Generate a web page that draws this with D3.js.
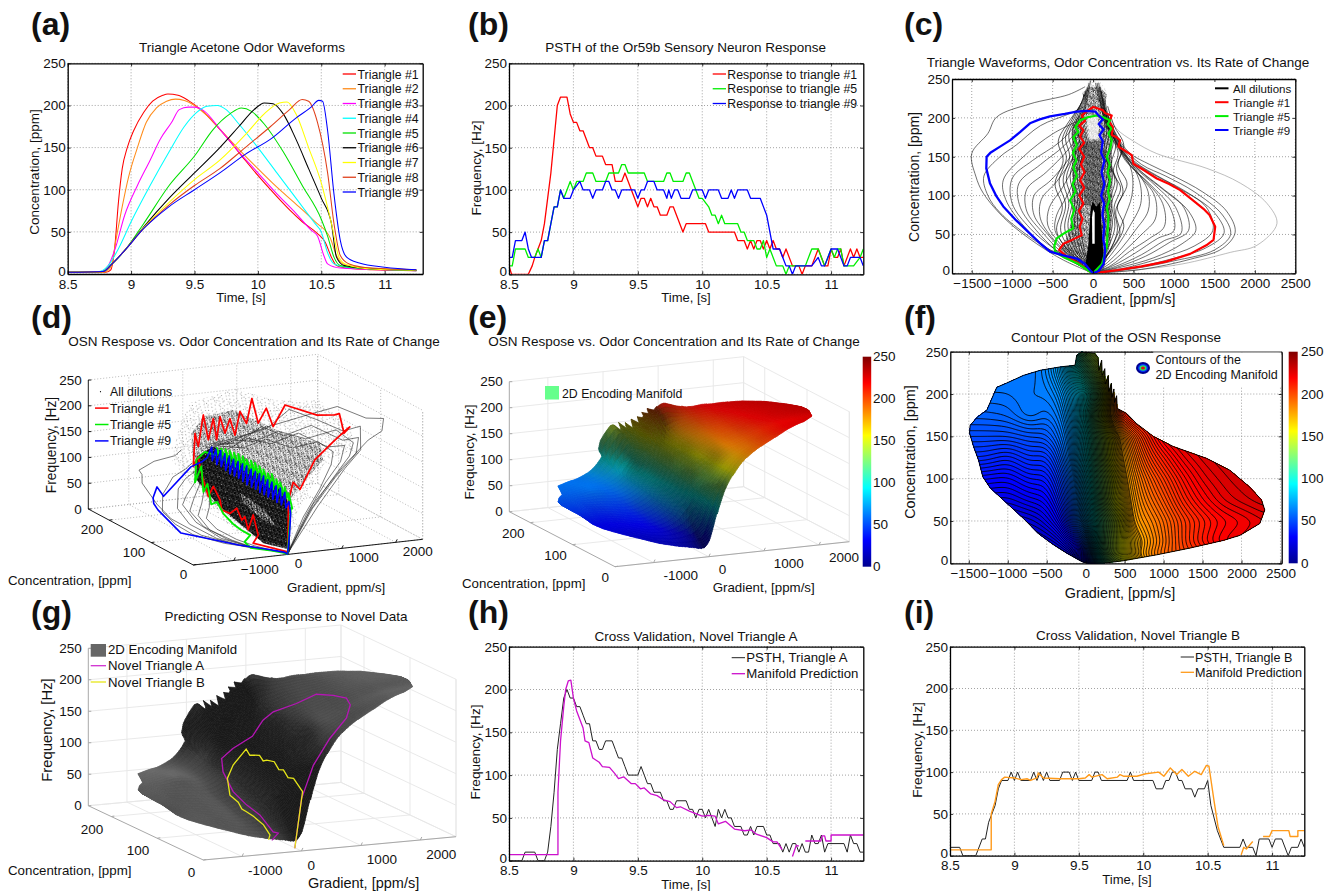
<!DOCTYPE html>
<html>
<head>
<meta charset="utf-8">
<script src="https://cdnjs.cloudflare.com/ajax/libs/d3/7.8.5/d3.min.js"></script>
<style>
body { margin: 0; background: #fff; }
text { font-family: "Liberation Sans", Arial, sans-serif; fill: #111; }
</style>
</head>
<body>
<div class="chart"></div>
<script>
// shared ticks
var timeTicks = [8.5, 9, 9.5, 10, 10.5, 11];
var freqTicks = [0, 50, 100, 150, 200, 250];
var gradTicks = [-1500, -1000, -500, 0, 500, 1000, 1500, 2000, 2500];
var gradTicks3d = [-1000, 0, 1000, 2000];
var concTicks3d = [0, 100, 200];

// (a) waveforms, [time, concentration]
var triangle1 = [[8.5,2],[8.8,2],[8.84,5],[8.87,30],[8.9,85],[8.93,125],[8.97,150],[9.02,170],[9.1,192],[9.17,205],[9.25,212],[9.29,213.5],[9.37,212],[9.45,206],[9.55,195],[9.65,180],[9.75,163],[9.9,135],[10,117],[10.1,100],[10.25,76],[10.35,62],[10.47,48],[10.53,38],[10.58,20],[10.62,10],[10.7,7],[10.9,5],[11.25,4]];
var triangle2 = [[8.5,2],[8.78,2],[8.84,8],[8.88,40],[8.93,80],[8.98,115],[9.05,150],[9.12,180],[9.2,197],[9.28,205],[9.35,207.5],[9.42,206],[9.5,200],[9.6,188],[9.7,172],[9.85,148],[10,125],[10.15,103],[10.3,83],[10.45,62],[10.57,43],[10.62,22],[10.67,12],[10.8,8],[11.25,4]];
var triangle3 = [[8.5,2],[8.76,3],[8.82,10],[8.87,28],[8.95,70],[9.05,105],[9.15,135],[9.23,160],[9.32,180],[9.38,195],[9.45,198],[9.5,198],[9.58,193],[9.7,172],[9.85,145],[10,120],[10.15,95],[10.3,72],[10.42,52],[10.47,45],[10.52,22],[10.55,12],[10.65,7],[11.25,4]];
var triangle4 = [[8.5,2],[8.75,3],[8.82,10],[8.9,30],[9,62],[9.15,105],[9.3,145],[9.42,175],[9.52,192],[9.6,199],[9.68,200],[9.75,195],[9.85,178],[10,150],[10.15,120],[10.3,90],[10.45,60],[10.5,50],[10.55,25],[10.6,12],[10.7,8],[11.25,4]];
var triangle5 = [[8.5,2],[8.78,3],[8.85,12],[8.95,28],[9.1,60],[9.3,105],[9.5,140],[9.65,172],[9.78,190],[9.87,197],[9.95,193],[10.05,178],[10.2,145],[10.35,105],[10.5,65],[10.55,45],[10.6,20],[10.65,10],[10.8,7],[11.25,4.5]];
var triangle6 = [[8.5,2],[8.78,3],[8.85,12],[8.95,28],[9.1,56],[9.3,90],[9.5,120],[9.7,150],[9.85,175],[9.97,195],[10.05,203],[10.12,202],[10.2,190],[10.3,160],[10.4,125],[10.5,90],[10.58,60],[10.62,20],[10.68,10],[10.9,6],[11.25,4.5]];
var triangle7 = [[8.5,2],[8.78,3],[8.85,12],[8.95,28],[9.1,55],[9.3,85],[9.5,112],[9.7,135],[9.9,165],[10.05,190],[10.17,203],[10.23,204],[10.3,190],[10.4,150],[10.5,108],[10.58,60],[10.64,20],[10.7,11],[10.9,6],[11.25,4.5]];
var triangle8 = [[8.5,2],[8.78,3],[8.85,12],[8.95,28],[9.1,54],[9.3,82],[9.5,105],[9.7,125],[9.9,150],[10.1,175],[10.25,195],[10.35,207],[10.4,205],[10.47,180],[10.55,120],[10.6,60],[10.65,22],[10.72,12],[10.9,7],[11.25,5]];
var triangle9 = [[8.5,2],[8.78,3],[8.85,12],[8.95,28],[9.1,54],[9.3,80],[9.5,100],[9.7,120],[9.9,142],[10.1,160],[10.3,185],[10.42,198],[10.48,206],[10.51,205],[10.55,170],[10.6,95],[10.65,40],[10.7,20],[10.8,13],[11,8],[11.25,5]];

// (b) PSTH, [time, frequency]
var psth1 = [[8.5,10],[8.52,0],[8.65,0],[8.68,10],[8.7,20],[8.725,30],[8.75,40],[8.775,60],[8.8,90],[8.825,120],[8.85,160],[8.875,200],[8.9,210],[8.95,210],[8.975,190],[9,180],[9.025,180],[9.05,170],[9.075,170],[9.1,160],[9.125,150],[9.15,150],[9.175,140],[9.225,140],[9.25,130],[9.3,130],[9.325,110],[9.375,110],[9.4,120],[9.45,100],[9.5,80],[9.525,90],[9.55,90],[9.575,80],[9.6,90],[9.625,80],[9.65,80],[9.675,70],[9.725,70],[9.75,80],[9.775,80],[9.85,50],[9.875,60],[10.025,60],[10.05,50],[10.25,50],[10.275,40],[10.325,40],[10.35,30],[10.375,40],[10.4,30],[10.425,40],[10.45,40],[10.475,30],[10.5,40],[10.525,30],[10.55,40],[10.575,30],[10.6,30],[10.625,20],[10.65,30],[10.7,10],[10.75,10],[10.775,0],[10.8,10],[10.85,10],[10.875,20],[10.9,30],[10.925,20],[10.95,10],[10.975,10],[11,30],[11.025,20],[11.05,20],[11.075,30],[11.1,10],[11.125,20],[11.15,30],[11.175,20],[11.2,30],[11.225,20],[11.25,20]];
var psth5 = [[8.5,10],[8.525,10],[8.55,30],[8.625,30],[8.65,20],[8.7,20],[8.725,30],[8.75,20],[8.775,40],[8.8,40],[8.825,60],[8.85,80],[8.875,80],[8.9,100],[8.925,90],[8.95,100],[8.975,110],[9,100],[9.025,110],[9.075,110],[9.1,120],[9.15,120],[9.175,110],[9.25,110],[9.275,120],[9.35,120],[9.375,130],[9.4,130],[9.425,120],[9.55,120],[9.575,110],[9.7,110],[9.725,120],[9.75,120],[9.775,110],[9.85,110],[9.875,120],[9.9,120],[9.925,110],[9.975,90],[10,90],[10.05,80],[10.075,70],[10.1,70],[10.125,60],[10.15,70],[10.175,60],[10.275,60],[10.3,50],[10.325,50],[10.35,40],[10.4,40],[10.425,30],[10.45,30],[10.475,40],[10.5,20],[10.525,30],[10.55,20],[10.575,10],[10.625,10],[10.65,0],[10.675,10],[10.8,10],[10.85,30],[10.9,30],[10.925,20],[10.95,10],[10.975,20],[11,30],[11.025,20],[11.05,30],[11.075,30],[11.1,10],[11.175,10],[11.225,20],[11.25,30]];
var psth9 = [[8.5,20],[8.525,20],[8.55,40],[8.6,40],[8.625,50],[8.65,30],[8.675,20],[8.75,20],[8.775,40],[8.8,40],[8.825,60],[8.85,80],[8.875,80],[8.9,100],[8.925,90],[8.975,90],[9,100],[9.05,110],[9.075,100],[9.125,100],[9.15,90],[9.175,100],[9.225,100],[9.25,110],[9.275,110],[9.3,100],[9.325,100],[9.35,90],[9.375,100],[9.475,100],[9.5,90],[9.525,100],[9.55,100],[9.575,110],[9.625,110],[9.65,100],[9.7,100],[9.725,90],[9.74,100],[9.76,90],[9.785,100],[9.81,100],[9.835,90],[9.9,90],[9.925,100],[10,100],[10.025,90],[10.05,100],[10.125,100],[10.15,90],[10.2,90],[10.225,100],[10.25,90],[10.275,100],[10.35,100],[10.375,90],[10.45,90],[10.5,70],[10.55,30],[10.6,30],[10.625,20],[10.65,10],[10.675,10],[10.7,0],[10.725,10],[10.85,10],[10.9,20],[10.925,10],[10.95,10],[10.975,20],[11,30],[11.05,30],[11.1,10],[11.125,10],[11.15,20],[11.225,20],[11.25,10]];

// (c) phase traces, [gradient, concentration]
var phase1 = [[0,0],[300,4],[600,9],[900,15],[1200,25],[1400,36],[1489,43],[1510,60],[1440,75],[1365,83],[1220,95],[1077,107],[940,115],[788,122],[640,132],[499,141],[478,152],[390,158],[313,163],[334,171],[290,175],[231,178],[245,188],[200,195],[230,203],[150,206],[120,210],[60,212],[4,214],[-60,210],[-140,203],[-100,196],[-170,190],[-120,184],[-160,176],[-110,168],[-170,160],[-110,150],[-150,140],[-105,130],[-160,120],[-110,110],[-170,100],[-120,90],[-175,80],[-130,70],[-165,60],[-140,49],[-260,43],[-367,38],[-420,30],[-330,22],[-160,11],[-37,2],[0,0]];
var phase5 = [[0,0],[110,12],[169,34],[180,55],[190,73],[170,85],[205,95],[185,105],[210,120],[180,130],[205,140],[170,150],[210,160],[231,171],[190,180],[225,186],[180,192],[210,197],[120,201],[45,203],[-60,201],[-160,197],[-220,188],[-180,182],[-243,175],[-200,165],[-250,155],[-205,145],[-243,137],[-200,125],[-255,115],[-215,105],[-285,94],[-230,82],[-270,70],[-243,58],[-350,52],[-450,45],[-480,35],[-470,28],[-350,20],[-200,13],[-37,2],[0,0]];
var phase9 = [[0,0],[70,3],[130,12],[150,30],[125,45],[140,62],[115,75],[135,90],[100,100],[140,115],[105,130],[140,145],[100,155],[120,170],[80,178],[130,185],[70,192],[120,198],[60,204],[30,208],[-80,209],[-200,208],[-350,205],[-532,202],[-660,198],[-780,193],[-900,182],[-1027,171],[-1150,163],[-1270,155],[-1316,150],[-1320,135],[-1275,116],[-1200,100],[-1110,86],[-950,68],[-780,51],[-650,38],[-532,28],[-370,23],[-200,19],[-100,12],[-37,4],[0,0]];

// all dilutions, single traces as [gradient, concentration, frequency]
var risingTraces = [
  [[0,0,2],[500,4,90],[1100,12,150],[1700,27,190],[2025,36,200],[2273,64,209],[2149,90,200],[1820,116,215],[1407,135,195],[788,154,170],[500,170,150],[300,185,130],[180,205,120]],
  [[0,0,2],[600,5,85],[1200,18,145],[1600,32,170],[1757,53,205],[1650,80,185],[1350,105,200],[1000,125,215],[700,140,175],[450,155,160],[280,180,140],[150,210,120]],
  [[0,0,2],[500,6,80],[1000,16,130],[1500,30,165],[1700,50,185],[1600,75,170],[1250,105,190],[900,125,165],[600,140,180],[350,165,140],[200,200,125]],
  [[0,0,2],[450,6,75],[950,18,125],[1400,33,160],[1620,52,175],[1500,78,190],[1150,105,165],[800,125,175],[500,145,150],[300,170,145],[180,205,115]],
  [[0,0,2],[400,7,70],[850,20,120],[1250,35,150],[1480,55,170],[1400,85,155],[1050,110,175],[700,130,150],[420,150,155],[250,175,125],[150,210,115]],
  [[0,0,2],[350,8,65],[750,20,110],[1100,38,145],[1270,55,160],[1180,80,170],[900,105,150],[600,130,160],[380,155,135],[200,190,125]],
  [[0,0,2],[300,8,60],[650,22,105],[950,40,135],[1180,55,150],[1120,85,140],[850,110,155],[550,135,135],[340,160,140],[180,195,115]],
  [[0,0,2],[280,9,55],[600,24,95],[880,42,125],[1090,52,140],[1020,85,150],[780,112,130],[500,138,140],[300,165,120],[170,200,115]],
  [[0,0,2],[250,10,50],[520,26,90],[800,45,120],[1000,55,130],[950,85,120],[700,115,135],[450,140,115],[280,170,125]],
  [[0,0,2],[220,10,45],[450,28,80],[700,45,110],[880,60,125],[860,90,110],[640,120,125],[400,145,110],[250,175,120]],
  [[0,0,2],[200,12,40],[400,30,75],[600,50,100],[770,70,115],[760,100,105],[580,125,115],[380,150,100],[220,185,115]],
  [[0,0,2],[180,14,35],[350,32,70],[520,55,90],[680,80,105],[680,105,95],[520,135,110],[330,160,95],[200,195,110]],
  [[0,0,2],[150,15,30],[300,35,60],[450,60,85],[590,90,95],[570,120,85],[420,150,100],[260,180,95]],
  [[0,0,2],[130,15,25],[260,40,55],[380,70,75],[480,100,90],[480,130,80],[360,160,95],[220,190,90]]
];
var fallingTraces = [
  [[-100,240,100],[-300,230,95],[-780,218,95],[-1192,201,90],[-1300,180,92],[-1500,154,89],[-1450,125,60],[-1357,103,40],[-1068,68,20],[-697,38,12],[-367,17,8],[0,0,3]],
  [[-100,215,85],[-300,205,80],[-650,190,75],[-950,165,70],[-1150,150,65],[-1350,125,45],[-1300,100,30],[-1150,78,18],[-800,48,10],[-500,28,8],[-200,12,5],[0,0,3]],
  [[-100,200,80],[-490,180,75],[-862,150,72],[-1110,120,50],[-1080,95,30],[-850,60,15],[-560,32,8],[-250,15,5],[0,0,3]],
  [[-100,205,78],[-400,170,70],[-750,145,60],[-1000,122,55],[-1000,90,35],[-780,58,15],[-500,33,8],[-220,14,5],[0,0,3]],
  [[-80,200,75],[-350,165,68],[-650,140,55],[-920,115,45],[-900,85,28],[-700,55,14],[-460,30,7],[-200,13,4],[0,0,3]],
  [[-80,195,72],[-300,160,62],[-580,130,50],[-820,108,38],[-820,80,22],[-620,52,12],[-420,30,6],[-180,12,4],[0,0,3]],
  [[-70,190,70],[-280,150,58],[-520,120,45],[-730,100,35],[-730,75,25],[-560,50,14],[-380,30,8],[-160,12,4],[0,0,3]],
  [[-60,185,68],[-240,150,55],[-450,118,42],[-640,95,30],[-650,70,20],[-500,45,12],[-340,28,7],[-140,11,4],[0,0,3]],
  [[-60,180,65],[-200,145,50],[-380,110,38],[-540,85,26],[-560,62,18],[-440,42,10],[-300,26,6],[-120,10,3],[0,0,3]],
  [[-50,175,60],[-180,135,45],[-320,100,32],[-450,75,22],[-470,55,15],[-370,38,9],[-250,23,5],[-100,9,3],[0,0,3]]
];
// narrow wiggly traces near the middle of (c), [gradient, concentration]
var narrowTraces = [
  [[20,5],[230,30],[380,60],[300,85],[420,115],[310,140],[380,165],[260,190],[180,215]],
  [[20,5],[200,28],[330,50],[280,80],[370,105],[290,135],[350,160],[230,185],[150,220]],
  [[20,5],[180,25],[300,55],[260,85],[340,110],[250,130],[310,155],[210,180],[130,225]],
  [[15,5],[160,28],[270,60],[230,90],[300,115],[225,140],[280,165],[190,190],[110,230]],
  [[15,5],[150,30],[240,65],[200,90],[270,120],[200,145],[250,170],[170,195],[100,235]],
  [[10,5],[130,30],[210,60],[180,95],[240,125],[180,150],[220,175],[150,200],[90,240]],
  [[10,5],[110,35],[185,70],[155,100],[205,130],[155,155],[195,180],[130,205],[70,245]],
  [[10,5],[100,35],[160,75],[135,105],[180,135],[135,160],[170,185],[110,210],[50,245]],
  [[5,5],[85,40],[135,80],[115,110],[150,140],[115,165],[145,190],[95,215],[30,245]],
  [[-20,5],[-300,28],[-450,55],[-380,85],[-470,115],[-370,145],[-430,170],[-300,195],[-160,215]],
  [[-20,5],[-260,28],[-400,55],[-340,88],[-420,118],[-330,148],[-380,172],[-260,198],[-140,220]],
  [[-15,5],[-230,26],[-350,58],[-300,90],[-370,120],[-290,150],[-340,175],[-230,200],[-120,225]],
  [[-15,5],[-200,26],[-310,60],[-260,92],[-330,122],[-250,152],[-300,178],[-200,202],[-110,230]],
  [[-12,5],[-170,25],[-270,62],[-225,94],[-285,125],[-215,155],[-260,180],[-170,205],[-90,235]],
  [[-10,5],[-140,24],[-230,64],[-190,96],[-245,127],[-180,157],[-225,182],[-145,208],[-70,240]],
  [[-10,5],[-115,24],[-195,66],[-160,98],[-205,130],[-150,160],[-190,185],[-120,210],[-50,245]],
  [[-8,5],[-90,24],[-160,68],[-130,100],[-170,132],[-120,162],[-155,187],[-100,212],[-30,248]]
];

// dense parts of the "all dilutions" bundle in (c), [gradient, concentration]
var phaseBand = [[0,0],[-420,25],[-330,45],[-260,70],[-260,190],[-100,215],[-130,232],[-50,240],[80,240],[170,230],[150,215],[230,190],[240,100],[220,40],[130,5]];
var phaseTop = [[-110,205],[-130,235],[-50,248],[80,248],[170,235],[160,205]];
var phaseMid = [[-110,88],[-120,170],[110,170],[110,88]];
var phaseSolid = [[0,0],[-420,24],[-100,8],[-60,35],[-38,70],[-30,84],[-5,92],[40,86],[90,92],[105,60],[130,20],[70,2]];
var phaseCore = [[-10,38],[-13,72],[0,82],[20,78],[20,38]];
var phaseCoreUp = [[-70,172],[-85,190],[-60,204],[50,204],[75,190],[60,172]];

// (d) selected triangles, [gradient, concentration, frequency]
var space1 = [[0,0,5],[30,2,105],[140,5,136],[305,10,118],[657,20,167],[1077,30,193],[1500,50,205],[1500,45,210],[1510,60,191],[1500,70,225],[1450,75,221],[1320,100,211],[900,122,226],[780,135,180],[700,141,214],[620,150,182],[580,160,226],[520,165,176],[515,180,193],[423,180,148],[330,180,181],[238,180,154],[145,180,187],[83,180,143],[22,180,185],[-71,180,145],[-164,180,194],[-256,180,134],[-318,180,160],[-349,180,96],[-150,194,107],[-150,186,78],[-150,170,40],[-150,158,65],[-150,142,46],[-150,138,28],[-150,118,30],[-150,102,47],[-150,90,29],[-150,83,39],[-150,75,17],[-150,63,51],[-150,51,17],[-400,31,13],[0,0,5]];
var space5 = [[0,0,3],[60,3,60],[120,8,85],[200,15,80],[170,20,108],[230,25,88],[175,30,115],[235,35,90],[170,40,120],[240,45,92],[175,50,122],[235,55,92],[170,60,128],[235,65,95],[175,70,125],[240,75,95],[170,80,128],[235,85,98],[175,90,130],[240,95,100],[170,100,132],[235,105,100],[175,110,132],[240,115,102],[170,120,130],[235,125,100],[175,130,132],[240,135,102],[170,140,132],[235,145,100],[170,150,130],[230,155,100],[170,160,130],[225,165,100],[170,170,128],[225,175,98],[170,180,125],[215,185,100],[165,190,122],[200,195,105],[45,203,110],[-160,197,100],[-240,190,60],[-200,180,95],[-240,170,50],[-243,160,70],[-250,150,35],[-243,137,45],[-260,120,30],[-285,94,22],[-280,75,18],[-243,58,15],[-450,45,10],[-470,28,6],[-200,13,4],[-37,2,2],[0,0,0]];
var space9 = [[0,0,3],[50,2,40],[100,6,75],[130,14,95],[120,20,80],[140,25,108],[115,30,82],[135,35,112],[110,40,82],[135,45,112],[110,50,84],[135,55,115],[105,60,84],[135,65,115],[105,70,84],[135,75,118],[105,80,84],[140,85,118],[105,90,86],[140,95,118],[105,100,86],[140,105,118],[100,110,86],[135,115,120],[100,120,88],[135,125,120],[100,130,90],[130,135,120],[100,140,90],[125,145,120],[95,150,90],[125,155,122],[95,160,92],[120,165,122],[90,170,95],[120,175,124],[85,180,95],[110,185,122],[80,190,98],[110,195,122],[60,200,100],[30,207,90],[-200,205,83],[-900,180,45],[-1100,170,70],[-1250,160,55],[-1316,150,49],[-1316,140,41],[-1200,100,12],[-600,40,8],[-200,15,5],[-30,3,3],[0,0,0]];

// (d) outline of the point cloud at three densities, [gradient, concentration, frequency]
var cloudSparse = [[-1373,100,156],[-627,180,170],[-256,200,210],[546,200,228],[960,150,222],[1373,100,240],[1991,100,168],[1991,100,136],[1497,100,122],[1188,100,68],[941,100,25],[77,5,6],[-46,5,14],[-700,40,38],[-960,70,80],[-1016,110,108]];
var cloudMedium = [[-306,190,156],[-90,190,185],[466,190,192],[929,130,168],[1373,100,156],[1435,100,123],[694,60,98],[157,15,97],[77,5,12],[-281,30,18],[-540,60,47],[-645,110,72],[-429,170,88]];
var cloudDense = [[-367,170,120],[-59,170,136],[59,90,124],[96,15,111],[90,5,6],[-256,25,14],[-559,90,60],[-367,170,75]];
var cloudGap = [[-417,60,98],[15,60,63],[28,30,41],[-219,30,56],[-355,60,78]];

// (e, f, g) manifold: frequency on a gradient x concentration table
var manifoldG = [-1600,-1300,-1000,-700,-500,-300,-200,-100,0,100,200,300,400,600,800,1000,1250,1500,1750,2000,2300,2500];
var manifoldC = [0,10,25,50,75,100,125,150,175,200,225,250];
var manifoldF = [
  [6,6,6,6,6,6,6,6,5,60,100,125,140,165,180,190,200,205,210,212,215,215],
  [8,8,8,8,9,12,15,20,30,80,115,135,150,172,185,195,203,208,215,220,222,222],
  [12,12,12,13,15,20,28,38,50,90,118,135,150,170,182,192,205,215,222,225,228,228],
  [18,18,18,20,24,33,45,58,75,95,115,132,148,180,186,194,205,213,219,222,226,226],
  [26,26,25,29,30,42,52,65,80,100,122,145,158,182,192,200,212,220,226,229,232,232],
  [34,33,32,37,36,48,58,70,85,105,128,140,165,185,197,206,217,225,229,232,234,234],
  [43,43,40,45,43,55,65,75,90,110,132,152,170,190,205,214,224,229,232,234,234,234],
  [50,50,50,52,52,60,68,78,92,112,135,150,175,198,212,224,230,232,232,232,232,232],
  [56,56,57,62,58,64,72,82,95,118,145,165,210,220,224,228,232,232,232,232,232,232],
  [60,60,60,62,62,68,76,84,90,108,135,160,210,222,226,228,232,232,232,232,232,232],
  [62,62,62,60,65,74,85,95,110,130,150,165,205,222,226,228,232,232,232,232,232,232],
  [62,62,62,60,65,76,90,105,135,145,155,170,205,222,226,228,232,232,232,232,232,232]
];
var manifoldEdge = [[-51,2],[-244,12],[-415,22],[-607,35],[-800,53],[-1013,71],[-1226,89],[-1320,102],[-1376,122],[-1440,138],[-1491,154],[-1483,163],[-1389,173],[-1269,181],[-1184,199],[-1141,208],[-1013,213],[-799,222],[-585,228],[-329,232],[-137,234],[-115,246],[-51,250],[120,248],[160,243],[170,228],[205,240],[212,222],[245,230],[252,212],[290,222],[298,203],[330,213],[338,196],[362,206],[370,190],[397,198],[405,183],[526,177],[654,165],[868,150],[1124,138],[1551,124],[1850,110],[2107,90],[2256,75],[2299,63],[2235,47],[1979,33],[1765,27],[1338,18],[910,10],[483,3],[226,0],[13,0]];

// (g) novel triangles, [gradient, concentration, frequency]
var novelA = [[-88,3,4],[80,10,79],[394,25,124],[786,40,158],[1222,60,180],[1441,80,192],[1491,95,197],[1424,115,195],[1295,135,191],[1116,155,171],[842,170,155],[746,180,139],[606,185,113],[100,162,106],[-150,154,95],[-150,151,75],[-150,129,51],[-150,100,40],[-150,71,34],[-150,42,17],[-150,31,19],[-250,32,8]];
var novelB = [[-88,3,4],[97,10,90],[100,30,104],[100,42,101],[100,52,110],[100,62,107],[100,72,116],[100,88,113],[100,96,109],[100,104,115],[100,117,111],[100,125,108],[100,133,115],[-50,142,88],[-100,148,65],[-150,136,43],[-150,118,38],[-150,110,30],[-150,100,29],[-150,85,27],[-150,63,21],[-150,49,10],[-150,52,1]];

// (h, i) cross validation, [time, frequency], null marks a gap
var psthA = [[8.5,0],[8.6,0],[8.625,10],[8.7,10],[8.725,0],[8.775,0],[8.8,10],[8.825,40],[8.85,80],[8.875,130],[8.9,160],[8.925,190],[8.95,200],[8.975,190],[9,190],[9.025,180],[9.05,180],[9.075,170],[9.1,160],[9.125,160],[9.15,140],[9.175,140],[9.2,130],[9.225,130],[9.25,140],[9.3,140],[9.325,130],[9.35,120],[9.375,120],[9.4,110],[9.425,100],[9.5,100],[9.525,110],[9.55,100],[9.575,90],[9.6,90],[9.625,80],[9.675,80],[9.7,70],[9.725,70],[9.75,60],[9.775,60],[9.8,70],[9.875,70],[9.9,60],[9.925,60],[9.95,50],[9.975,60],[10,60],[10.025,50],[10.05,60],[10.075,50],[10.1,40],[10.125,60],[10.15,50],[10.175,60],[10.2,50],[10.225,50],[10.25,40],[10.3,40],[10.325,30],[10.35,30],[10.375,40],[10.4,30],[10.425,40],[10.475,40],[10.5,30],[10.525,30],[10.55,20],[10.6,20],[10.625,10],[10.65,20],[10.675,10],[10.7,20],[10.725,20],[10.75,10],[10.775,20],[10.8,10],[10.825,10],[10.85,30],[10.875,20],[10.9,20],[10.925,30],[10.95,10],[10.975,20],[11.1,20],[11.125,10],[11.15,30],[11.175,20],[11.2,20],[11.225,10],[11.25,10]];
var predictA = [[8.5,7],[8.88,7],[8.88,80],[8.9,140],[8.925,180],[8.94,200],[8.96,210],[8.98,211],[9,190],[9.025,175],[9.05,165],[9.075,155],[9.09,140],[9.12,138],[9.15,120],[9.2,115],[9.225,110],[9.28,109],[9.32,102],[9.35,96],[9.39,98],[9.45,90],[9.48,90],[9.52,84],[9.55,85],[9.6,78],[9.65,76],[9.7,71],[9.75,69],[9.8,62],[9.83,63],[9.9,58],[9.95,55],[10,52],[10.05,53],[10.1,52],[10.125,43],[10.18,46],[10.25,37],[10.33,35],[10.38,36],[10.42,31],[10.5,27],[10.55,22],[10.58,22],[10.62,13],null,[10.7,5],[10.73,18],[10.75,17],null,[10.8,23],[10.92,23],[10.93,29],[10.95,29],[10.96,23],[11,23],[11,30],[11.25,30]];
var psthB = [[8.5,10],[8.575,10],[8.6,0],[8.7,0],[8.75,20],[8.775,20],[8.8,40],[8.85,60],[8.875,80],[8.9,90],[8.95,90],[8.975,100],[9,90],[9.025,100],[9.05,90],[9.125,90],[9.15,100],[9.175,90],[9.2,100],[9.225,90],[9.25,100],[9.275,90],[9.35,90],[9.375,100],[9.425,100],[9.45,90],[9.475,100],[9.5,90],[9.6,90],[9.625,100],[9.65,100],[9.675,90],[9.875,90],[9.9,100],[9.925,90],[10.075,90],[10.1,80],[10.15,80],[10.175,90],[10.2,90],[10.225,100],[10.25,100],[10.275,90],[10.3,90],[10.325,80],[10.375,80],[10.4,70],[10.425,80],[10.475,80],[10.5,90],[10.525,60],[10.575,30],[10.625,10],[10.75,10],[10.775,20],[10.8,10],[10.85,10],[10.875,0],[10.9,20],[10.975,20],[11,10],[11.025,20],[11.075,20],[11.125,0],[11.15,10],[11.2,10],[11.225,20],[11.25,10]];
var predictB = [[8.5,7],[8.82,7],[8.82,50],[8.85,65],[8.875,85],[8.9,91],[8.925,94],[9,93],[9.05,91],[9.1,92],[9.125,90],[9.175,93],[9.185,99],[9.225,93],[9.35,92],[9.5,92],[9.55,93],[9.58,97],[9.6,94],[9.68,97],[9.72,92],[9.8,94],[9.82,97],[9.85,95],[9.95,95],[10.02,98],[10.12,100],[10.16,95],[10.21,105],[10.26,97],[10.3,103],[10.35,95],[10.4,101],[10.45,97],[10.49,108],[10.51,107],[10.55,65],[10.58,35],[10.625,12],null,[10.76,1],[10.78,10],[10.8,8],[10.85,17],null,[10.93,23],[10.98,23],[11,30],[11.13,30],[11.14,23],[11.2,23],[11.2,30],[11.25,30]];

var svgWidth = 1338;
var svgHeight = 891;
var titleSize = 13.5;

var svg = d3.select(".chart").append("svg")
  .attr("width", svgWidth)
  .attr("height", svgHeight)
  .style("display", "block");
var defs = svg.append("defs");

var jet = d3.scaleLinear()
  .domain([0, 31.25, 93.75, 156.25, 218.75, 250])
  .range(["#00008f", "#0000ff", "#00ffff", "#ffff00", "#ff0000", "#7f0000"]);

function addText(x, y, s, size, anchor, rotate, weight) {
  var t = svg.append("text")
    .attr("x", x).attr("y", y)
    .attr("font-size", size)
    .attr("text-anchor", anchor || "start")
    .text(s);
  if (rotate) t.attr("transform", `rotate(${rotate},${x},${y})`);
  if (weight) t.attr("font-weight", weight);
  return t;
}

// irregular dot tile for the dense point clouds
var tileDots = [[2,3],[9,1],[17,4],[25,2],[5,9],[13,7],[21,10],[28,8],[1,14],[8,13],[16,12],[24,15],[4,19],[11,18],[19,17],[27,20],[7,24],[14,23],[22,25],[29,26],[2,28],[10,28],[18,29],[26,23],[12,3],[20,6],[6,16],[15,21],[23,20],[3,24]];
function stipple(id, count, size, r, color) {
  defs.append("pattern").attr("id", id)
    .attr("patternUnits", "userSpaceOnUse")
    .attr("patternTransform", "rotate(17)")
    .attr("width", size).attr("height", size)
    .selectAll("circle").data(tileDots.slice(0, count)).enter().append("circle")
    .attr("cx", d => d[0] * size / 30)
    .attr("cy", d => d[1] * size / 30)
    .attr("r", r)
    .attr("fill", color);
}
stipple("cloudSparse", 30, 17, 0.42, "#222");
stipple("cloudMedium", 30, 10, 0.55, "#000");
stipple("cloudDense", 30, 6, 0.72, "#000");
stipple("cloudWhite", 30, 11, 0.65, "#fff");
stipple("bandDots", 30, 8, 0.55, "#000");
stipple("topDots", 30, 14, 0.35, "#777");

// 2d axes with matlab style box, inward ticks and dotted grid
function axes2d(o) {
  var x = d3.scaleLinear().domain(o.xDomain).range([o.left, o.right]);
  var y = d3.scaleLinear().domain(o.yDomain).range([o.bottom, o.top]);
  var g = svg.append("g");

  g.append("g").selectAll("line").data(o.xTicks).enter().append("line")
    .attr("x1", d => x(d)).attr("x2", d => x(d))
    .attr("y1", o.top).attr("y2", o.bottom);
  g.append("g").selectAll("line").data(o.yTicks).enter().append("line")
    .attr("x1", o.left).attr("x2", o.right)
    .attr("y1", d => y(d)).attr("y2", d => y(d));
  g.selectAll("line").attr("stroke", "#8c8c8c").attr("stroke-width", 0.8).attr("stroke-dasharray", "1,2");

  var marks = svg.append("g");

  var box = svg.append("g").attr("class", "box");
  var size = 3;
  box.append("g").attr("transform", `translate(0,${o.bottom})`)
    .call(d3.axisBottom(x).tickValues(o.xTicks).tickSizeInner(-size).tickSizeOuter(0).tickPadding(5).tickFormat(d => d3.format("")(d).replace("-", "\u2212")));
  var left = box.append("g").attr("transform", `translate(${o.left},0)`)
    .call(d3.axisLeft(y).tickValues(o.yTicks).tickSizeInner(-size).tickSizeOuter(0).tickPadding(2));
  // the zero label sits a little above the corner, as in the original
  left.selectAll(".tick text").filter(d => d === 0).attr("y", -3);
  box.append("g").attr("transform", `translate(0,${o.top})`)
    .call(d3.axisTop(x).tickValues(o.xTicks).tickSizeInner(-size).tickSizeOuter(0).tickFormat(""));
  box.append("g").attr("transform", `translate(${o.right},0)`)
    .call(d3.axisRight(y).tickValues(o.yTicks).tickSizeInner(-size).tickSizeOuter(0).tickFormat(""));
  box.selectAll("path.domain").attr("stroke", "#000").attr("stroke-width", 1.3);
  box.selectAll(".tick line").attr("stroke", "#000").attr("stroke-width", 0.8);
  box.selectAll("text").attr("font-size", 13.5).style("fill", "#111");
  box.selectAll("g").filter(function() { return this.getAttribute("font-family"); }).attr("font-family", null).attr("font-size", null);

  var clipId = "clip" + Math.round(o.left) + "_" + Math.round(o.top);
  defs.append("clipPath").attr("id", clipId).append("rect")
    .attr("x", o.left).attr("y", o.top)
    .attr("width", o.right - o.left).attr("height", o.bottom - o.top);
  marks.attr("clip-path", `url(#${clipId})`);

  return { x: x, y: y, marks: marks };
}

function drawSeries(ax, series, curve) {
  var line = d3.line().defined(d => d !== null).x(d => ax.x(d[0])).y(d => ax.y(d[1]));
  if (curve) line.curve(curve);
  ax.marks.append("g").selectAll("path").data(series).enter().append("path")
    .attr("d", d => line(d.values))
    .attr("fill", "none")
    .attr("stroke", d => d.color)
    .attr("stroke-width", d => d.width || 1.1)
    .attr("stroke-linejoin", "round");
}

function drawLegend(items, x0, x1, xText, yStart, yStep, size, width) {
  items.forEach(function(d, i) {
    var y = yStart + i * yStep;
    if (d.color) {
      svg.append("line").attr("x1", x0).attr("x2", x1).attr("y1", y).attr("y2", y)
        .attr("stroke", d.color).attr("stroke-width", d.width || width || 1.3);
    }
    addText(xText, y + 4.5, d.name, size || 12.3);
  });
}

// (a)
var waveColors = ["#ff0000", "#ff8c1a", "#ff00ff", "#00ffff", "#00e000", "#000000", "#ffff00", "#e0401a", "#0000ff"];
var waves = [triangle1, triangle2, triangle3, triangle4, triangle5, triangle6, triangle7, triangle8, triangle9];
var axA = axes2d({ left: 67.7, right: 422.7, top: 63.3, bottom: 274, xDomain: [8.5, 11.3], yDomain: [0, 250], xTicks: timeTicks, yTicks: freqTicks });
drawSeries(axA, waves.map((w, i) => ({ values: w, color: waveColors[i], width: 1.05 })), d3.curveMonotoneX);
drawLegend(waves.map((w, i) => ({ name: "Triangle #" + (i + 1), color: waveColors[i] })), 342.7, 356, 357.5, 74, 14.75);
addText(242, 52, "Triangle Acetone Odor Waveforms", titleSize, "middle");
addText(241, 302, "Time, [s]", 13, "middle");
addText(39, 172, "Concentration, [ppm]", 13.5, "middle", -90);
addText(31, 35, "(a)", 32, "start", 0, "bold");

// (b)
var axB = axes2d({ left: 509, right: 863.3, top: 63.3, bottom: 274.3, xDomain: [8.5, 11.25], yDomain: [0, 250], xTicks: timeTicks, yTicks: freqTicks });
drawSeries(axB, [
  { values: psth1, color: "#ff0000", width: 1.3 },
  { values: psth5, color: "#00ee00", width: 1.3 },
  { values: psth9, color: "#0000ff", width: 1.3 }
]);
drawLegend([
  { name: "Response to triangle #1", color: "#ff0000" },
  { name: "Response to triangle #5", color: "#00ee00" },
  { name: "Response to triangle #9", color: "#0000ff" }
], 712.7, 726, 727.3, 74, 14.75);
addText(685.7, 52, "PSTH of the Or59b Sensory Neuron Response", titleSize, "middle");
addText(686, 302, "Time, [s]", 13, "middle");
addText(480.7, 168, "Frequency, [Hz]", 13.6, "middle", -90);
addText(468, 35, "(b)", 32, "start", 0, "bold");

// (c)
var axC = axes2d({ left: 952, right: 1295.3, top: 79, bottom: 273.3, xDomain: [-1744, 2500], yDomain: [0, 250], xTicks: gradTicks, yTicks: freqTicks });
var polyC = d3.line().curve(d3.curveLinearClosed).x(d => axC.x(d[0])).y(d => axC.y(d[1]));
var smoothC = d3.line().curve(d3.curveCatmullRom).x(d => axC.x(d[0])).y(d => axC.y(d[1]));
axC.marks.append("path").attr("d", polyC(phaseTop)).attr("fill", "url(#topDots)");
axC.marks.append("path").attr("d", polyC(phaseBand)).attr("fill", "url(#bandDots)");
axC.marks.append("path").attr("d", polyC(phaseMid)).attr("fill", "url(#cloudDense)").attr("opacity", 0.45);
axC.marks.append("path").attr("d", polyC(phaseSolid)).attr("fill", "#000");
axC.marks.append("path").attr("d", polyC(phaseCore)).attr("fill", "#fff");
axC.marks.append("path").attr("d", polyC(phaseCoreUp)).attr("fill", "#fff").attr("opacity", 0.75);
axC.marks.append("g").selectAll("path").data(risingTraces.concat(fallingTraces)).enter().append("path")
  .attr("d", d => smoothC(d))
  .attr("fill", "none")
  .attr("stroke", (d, i) => (i === 0 ? "#999" : "#222"))
  .attr("stroke-width", 0.65);
axC.marks.append("g").selectAll("path").data(narrowTraces).enter().append("path")
  .attr("d", d => smoothC(d))
  .attr("fill", "none")
  .attr("stroke", "#000")
  .attr("stroke-width", 0.65);
drawSeries(axC, [
  { values: phase1, color: "#ff0000", width: 2.2 },
  { values: phase5, color: "#00ee00", width: 2.2 },
  { values: phase9, color: "#0000ff", width: 2.3 }
]);
axC.marks.append("rect").attr("x", 1210.7).attr("y", 79).attr("width", 85).attr("height", 58).attr("fill", "#fff");
drawLegend([
  { name: "All dilutions", color: "#000" },
  { name: "Triangle #1", color: "#ff0000" },
  { name: "Triangle #5", color: "#00ee00" },
  { name: "Triangle #9", color: "#0000ff" }
], 1215, 1228.5, 1233, 88.3, 13.9, 11.5, 2);
addText(1118, 67, "Triangle Waveforms, Odor Concentration vs. Its Rate of Change", titleSize, "middle");
addText(1121.7, 304, "Gradient, [ppm/s]", 14, "middle");
addText(919, 177, "Concentration, [ppm]", 14, "middle", -90);
addText(904, 35, "(c)", 32, "start", 0, "bold");

// 3d box, orthographic view made of three linear axes
function axes3d(o) {
  var gx = d3.scaleLinear().domain([o.gMin, o.gMax]).range([0, o.right[0] - o.front[0]]);
  var gy = d3.scaleLinear().domain([o.gMin, o.gMax]).range([0, o.right[1] - o.front[1]]);
  var cx = d3.scaleLinear().domain([0, 250]).range([o.front[0], o.back[0]]);
  var cy = d3.scaleLinear().domain([0, 250]).range([o.front[1], o.back[1]]);
  var fy = d3.scaleLinear().domain([0, 250]).range([0, o.top - o.back[1]]);
  var gLo = o.gMin, gHi = o.gMax;
  var P = (g, c, f) => [cx(c) + gx(g), cy(c) + gy(g) + fy(f)];

  var walls = svg.append("g");
  function seg(a, b) {
    walls.append("line").attr("x1", a[0]).attr("y1", a[1]).attr("x2", b[0]).attr("y2", b[1])
      .attr("stroke", o.gridColor).attr("stroke-width", o.gridWidth).attr("stroke-dasharray", o.gridDash);
  }
  freqTicks.forEach(function(f) {
    seg(P(gLo, 250, f), P(gHi, 250, f));
    seg(P(gHi, 250, f), P(gHi, 0, f));
  });
  gradTicks3d.concat([gHi]).forEach(function(g) {
    seg(P(g, 250, 0), P(g, 250, 250));
    seg(P(g, 0, 0), P(g, 250, 0));
  });
  concTicks3d.concat([250]).forEach(function(c) {
    seg(P(gHi, c, 0), P(gHi, c, 250));
    seg(P(gLo, c, 0), P(gHi, c, 0));
  });
  seg(P(gHi, 0, 0), P(gHi, 0, 250));

  var axisLines = svg.append("g");
  function ax(a, b) {
    axisLines.append("line").attr("x1", a[0]).attr("y1", a[1]).attr("x2", b[0]).attr("y2", b[1])
      .attr("stroke", o.axisColor).attr("stroke-width", o.axisWidth);
  }
  ax(P(gLo, 250, 0), P(gLo, 250, 250));
  ax(P(gLo, 250, 0), P(gLo, 0, 0));
  ax(P(gLo, 0, 0), P(gHi, 0, 0));
  freqTicks.forEach(function(f) {
    var p = P(gLo, 250, f);
    ax(p, [p[0] + 3, p[1]]);
    addText(p[0] - 6.5, p[1] + 4.5, f, 13.5, "end");
  });
  concTicks3d.forEach(function(c) {
    var p = P(gLo, c, 0);
    ax(p, [p[0] + 3, p[1] - 0.5]);
    addText(p[0] - o.cLabel[0], p[1] + o.cLabel[1], c, 13.5, "end");
  });
  gradTicks3d.forEach(function(g) {
    var p = P(g, 0, 0);
    ax(p, [p[0] + 1.5, p[1] - 3]);
    addText(p[0] + o.gLabel[0], p[1] + o.gLabel[1], g < 0 ? o.minus + Math.abs(g) : g, 13.5);
  });
  return P;
}

// (d)
var P3 = axes3d({
  back: [88.3, 509], front: [193.3, 565], right: [422.7, 539.3], top: 380,
  gMin: -1750, gMax: 2500,
  gridColor: "#a8a8a8", gridWidth: 0.8, gridDash: "1,2", axisColor: "#000", axisWidth: 0.9,
  cLabel: [6, 14], gLabel: [7, 14], minus: "\u2212"
});
var line3 = d3.line().x(d => P3(d[0], d[1], d[2])[0]).y(d => P3(d[0], d[1], d[2])[1]);
var poly3 = d3.line().curve(d3.curveLinearClosed).x(d => P3(d[0], d[1], d[2])[0]).y(d => P3(d[0], d[1], d[2])[1]);
svg.append("path").attr("d", poly3(cloudSparse)).attr("fill", "url(#cloudSparse)");
svg.append("path").attr("d", poly3(cloudMedium)).attr("fill", "url(#cloudMedium)");
svg.append("path").attr("d", poly3(cloudDense)).attr("fill", "url(#cloudDense)");
svg.append("path").attr("d", poly3(cloudGap)).attr("fill", "url(#cloudWhite)");
svg.append("g").selectAll("path").data(risingTraces.slice(0, 6).concat(fallingTraces.slice(0, 7))).enter().append("path")
  .attr("d", d => line3(d))
  .attr("fill", "none")
  .attr("stroke", "#222")
  .attr("stroke-width", 0.6);
[[space1, "#ff0000", 1.7], [space5, "#00ee00", 1.9], [space9, "#0000ff", 1.6]].forEach(function(d) {
  svg.append("path").attr("d", line3(d[0])).attr("fill", "none")
    .attr("stroke", d[1]).attr("stroke-width", d[2]).attr("stroke-linejoin", "round");
});
svg.append("circle").attr("cx", 100.5).attr("cy", 391.7).attr("r", 0.6).attr("fill", "#000");
drawLegend([
  { name: "All dilutions" },
  { name: "Triangle #1", color: "#ff0000" },
  { name: "Triangle #5", color: "#00ee00" },
  { name: "Triangle #9", color: "#0000ff" }
], 95, 108.5, 110, 391.7, 16.4, 12.3, 1.5);
addText(254, 345.7, "OSN Respose vs. Odor Concentration and Its Rate of Change", titleSize, "middle");
addText(8, 585, "Concentration, [ppm]", 13.3);
addText(287, 591.7, "Gradient,  ppm/s]", 13.3);
addText(55.7, 445, "Frequency, [Hz]", 13.8, "middle", -90);
addText(31, 328, "(d)", 32, "start", 0, "bold");

// manifold field: bilinear on the table, then blurred like interpolated shading
var gIndex = d3.scaleLinear().domain(manifoldG).range(d3.range(manifoldG.length)).clamp(true);
var cIndex = d3.scaleLinear().domain(manifoldC).range(d3.range(manifoldC.length)).clamp(true);
function tableValue(g, c) {
  var i = gIndex(g), j = cIndex(c);
  var i0 = Math.min(Math.floor(i), manifoldG.length - 2), j0 = Math.min(Math.floor(j), manifoldC.length - 2);
  var u = i - i0, v = j - j0;
  return (manifoldF[j0][i0] * (1 - u) + manifoldF[j0][i0 + 1] * u) * (1 - v) +
         (manifoldF[j0 + 1][i0] * (1 - u) + manifoldF[j0 + 1][i0 + 1] * u) * v;
}
var fieldStepG = 12.5, fieldStepC = 1, fieldG0 = -1600;
var fieldW = Math.round((2500 - fieldG0) / fieldStepG) + 1, fieldH = 251;
var fieldData = new Float64Array(fieldW * fieldH);
for (var jj = 0; jj < fieldH; jj++) {
  for (var ii = 0; ii < fieldW; ii++) {
    fieldData[jj * fieldW + ii] = tableValue(fieldG0 + ii * fieldStepG, jj * fieldStepC);
  }
}
d3.blur2({ data: fieldData, width: fieldW, height: fieldH }, 6, 4);
function field(g, c) {
  var i = Math.max(0, Math.min(fieldW - 1, Math.round((g - fieldG0) / fieldStepG)));
  var j = Math.max(0, Math.min(fieldH - 1, Math.round(c / fieldStepC)));
  return fieldData[j * fieldW + i];
}
function slope(g, c) {
  var dg = (field(g + 50, c) - field(g - 50, c));
  var dc = (field(g, c + 8) - field(g, c - 8)) / 16 * 10;
  return Math.hypot(dg, dc);
}

// surface mesh fitted to the manifold edge, so the outline stays clean
function edgeRange(g) {
  var cs = [];
  manifoldEdge.forEach(function(p, i) {
    var q = manifoldEdge[(i + 1) % manifoldEdge.length];
    if ((p[0] <= g && q[0] > g) || (q[0] <= g && p[0] > g)) {
      cs.push(p[1] + (g - p[0]) / (q[0] - p[0]) * (q[1] - p[1]));
    }
  });
  return cs.length ? d3.extent(cs) : null;
}
var gStep = 12, meshRows = 26;
var meshCols = d3.range(-1488, 2298, gStep).map(g => ({ g: g, range: edgeRange(g) })).filter(d => d.range);
var surfaceCells = [];
for (var rr = meshRows - 1; rr >= 0; rr--) {
  for (var cc = 0; cc < meshCols.length - 1; cc++) {
    surfaceCells.push({ col: cc, row: rr });
  }
}
function meshPoint(col, row) {
  var m = meshCols[col];
  return [m.g, m.range[0] + (m.range[1] - m.range[0]) * row / meshRows];
}
function cellCentre(d) {
  var a = meshPoint(d.col, d.row), b = meshPoint(d.col + 1, d.row + 1);
  return [(a[0] + b[0]) / 2, (a[1] + b[1]) / 2];
}

function drawSurface(P, fill) {
  var corner = function(col, row) {
    var q = meshPoint(col, row), p = P(q[0], q[1], field(q[0], q[1]));
    return p[0].toFixed(1) + "," + p[1].toFixed(1);
  };
  svg.append("g").style("filter", "blur(0.4px)")
    .selectAll("path").data(surfaceCells).enter().append("path")
    .attr("d", d => "M" + corner(d.col, d.row) + "L" + corner(d.col + 1, d.row) + "L" + corner(d.col + 1, d.row + 1) + "L" + corner(d.col, d.row + 1) + "Z")
    .attr("fill", fill)
    .attr("stroke", fill)
    .attr("stroke-width", 0.7);
}

function colorbar(id, x, y0, y1, w, labelX) {
  var grad = defs.append("linearGradient").attr("id", id)
    .attr("x1", 0).attr("x2", 0).attr("y1", 1).attr("y2", 0);
  grad.selectAll("stop").data(jet.domain()).enter().append("stop")
    .attr("offset", d => d / 250).attr("stop-color", d => jet(d));
  var s = d3.scaleLinear().domain([0, 250]).range([y1, y0]);
  svg.append("rect").attr("x", x).attr("y", y0).attr("width", w).attr("height", y1 - y0).attr("fill", `url(#${id})`);
  svg.append("g").selectAll("text").data(freqTicks).enter().append("text")
    .attr("x", labelX).attr("y", d => s(d) + 4.5)
    .attr("font-size", 13.5).text(d => d);
}

// (e)
var P4 = axes3d({
  back: [509.3, 511.7], front: [615, 566.7], right: [849.3, 541.7], top: 381.7,
  gMin: -1700, gMax: 2550,
  gridColor: "#e6e6e6", gridWidth: 0.9, gridDash: null, axisColor: "#a8a8a8", axisWidth: 1,
  cLabel: [6, 15], gLabel: [10, 17], minus: "-"
});
var darken = d3.scaleLinear().domain([0, 5, 12, 20]).range([0.06, 0.18, 0.45, 0.68]).clamp(true);
drawSurface(P4, function(d) {
  var m = cellCentre(d);
  return d3.interpolateRgb(jet(field(m[0], m[1])), "#000")(darken(slope(m[0], m[1])));
});
colorbar("jetE", 862.7, 356.7, 566.7, 8.5, 873);
svg.append("rect").attr("x", 545).attr("y", 386).attr("width", 14).attr("height", 13.5).attr("fill", "#66ff8c");
addText(562, 398, "2D Encoding Manifold", 12.3);
addText(674, 345.7, "OSN Respose vs. Odor Concentration and Its Rate of Change", titleSize, "middle");
addText(462, 588, "Concentration, [ppm]", 13.3);
addText(712.7, 591.7, "Gradient, [ppm/s]", 13.3);
addText(474, 452, "Frequency, [Hz]", 13.6, "middle", -90);
addText(468, 328, "(e)", 32, "start", 0, "bold");

// (f)
var axF = axes2d({ left: 950.3, right: 1281.7, top: 351.7, bottom: 563.3, xDomain: [-1738, 2516], yDomain: [0, 250], xTicks: gradTicks, yTicks: freqTicks });
var contourThresholds = d3.range(4, 65, 1.7).concat(d3.range(65, 178, 1.4)).concat(d3.range(178, 250, 2));
var contourSets = d3.contours().size([fieldW, fieldH]).thresholds(contourThresholds)(fieldData);
var contourPath = d3.geoPath(d3.geoTransform({
  point: function(px, py) {
    this.stream.point(axF.x(fieldG0 + (px - 0.5) * fieldStepG), axF.y((py - 0.5) * fieldStepC));
  }
}));
var edgeLine = d3.line().curve(d3.curveLinearClosed).x(d => axF.x(d[0])).y(d => axF.y(d[1]));
defs.append("clipPath").attr("id", "edgeClip").append("path").attr("d", edgeLine(manifoldEdge));
var contourG = axF.marks.append("g").attr("clip-path", "url(#edgeClip)");
contourG.append("rect").attr("x", 950.3).attr("y", 351.7).attr("width", 332).attr("height", 212).attr("fill", jet(2));
contourG.selectAll("path.band").data(contourSets).enter().append("path")
  .attr("class", "band")
  .attr("d", contourPath)
  .attr("fill", d => jet(d.value))
  .attr("stroke", "#000")
  .attr("stroke-width", 0.9);
axF.marks.append("path")
  .attr("d", edgeLine(manifoldEdge))
  .attr("fill", "none").attr("stroke", "#000").attr("stroke-width", 1);
svg.append("rect").attr("x", 1153.3).attr("y", 352.4).attr("width", 127.8).attr("height", 34).attr("fill", "#fff");
svg.append("line").attr("x1", 1153.3).attr("x2", 1281.7).attr("y1", 351.7).attr("y2", 351.7).attr("stroke", "#999").attr("stroke-width", 1.3);
[[7, 6, "#00008f"], [5, 4, "#0030ff"], [3.6, 2.8, "#22e070"], [2, 1.5, "#e01010"]].forEach(function(d) {
  svg.append("ellipse").attr("cx", 1143).attr("cy", 368).attr("rx", d[0]).attr("ry", d[1]).attr("fill", d[2]);
});
addText(1155.5, 364, "Contours of the", 12.5);
addText(1155.5, 378.5, "2D Encoding Manifold", 12.5);
colorbar("jetF", 1288.7, 351.7, 563.3, 9, 1301);
addText(1116, 341.7, "Contour Plot of the OSN Response", titleSize, "middle");
addText(1120, 597.7, "Gradient, [ppm/s]", 14.4, "middle");
addText(915, 452, "Concentration, [ppm]", 14.4, "middle", -90);
addText(904, 328, "(f)", 32, "start", 0, "bold");

// (g)
var P5 = axes3d({
  back: [88.3, 805.7], front: [203.3, 860], right: [456, 836.7], top: 648.3,
  gMin: -1650, gMax: 2600,
  gridColor: "#e6e6e6", gridWidth: 0.9, gridDash: null, axisColor: "#a8a8a8", axisWidth: 1,
  cLabel: [8, 17], gLabel: [6, 19], minus: "-"
});
var grey = d3.scaleLinear().domain([0, 5, 12, 20]).range(["#6c6c6c", "#4a4a4a", "#2a2a2a", "#1a1a1a"]).clamp(true);
drawSurface(P5, function(d) {
  var m = cellCentre(d);
  return grey(slope(m[0], m[1]));
});
var line5 = d3.line().x(d => P5(d[0], d[1], d[2])[0]).y(d => P5(d[0], d[1], d[2])[1]);
svg.append("path").attr("d", line5(novelA)).attr("fill", "none").attr("stroke", "#b515b5").attr("stroke-width", 1.3);
svg.append("path").attr("d", line5(novelB)).attr("fill", "none").attr("stroke", "#e6e619").attr("stroke-width", 1.3);
svg.append("rect").attr("x", 90.7).attr("y", 644).attr("width", 15.3).attr("height", 12.7).attr("fill", "#666");
addText(108, 654, "2D Encoding Manifold", 13.2);
drawLegend([
  { name: "Novel Triangle A", color: "#d030d0" },
  { name: "Novel Triangle B", color: "#e6e619" }
], 90.7, 106, 108, 665.7, 16.3, 13.2);
addText(286, 621, "Predicting OSN Response to Novel Data", titleSize, "middle");
addText(8, 875, "Concentration, [ppm]", 13.3);
addText(308, 887.7, "Gradient, [ppm/s]", 14.5);
addText(52, 730, "Frequency, [Hz]", 14.8, "middle", -90);
addText(31, 623, "(g)", 32, "start", 0, "bold");

// (h)
var axH = axes2d({ left: 509, right: 863.3, top: 646.7, bottom: 860.7, xDomain: [8.5, 11.25], yDomain: [0, 250], xTicks: timeTicks, yTicks: freqTicks });
drawSeries(axH, [
  { values: psthA, color: "#222", width: 1 },
  { values: predictA, color: "#cc10cc", width: 1.3 }
]);
drawLegend([
  { name: "PSTH, Triangle A", color: "#222", width: 1 },
  { name: "Manifold Prediction", color: "#cc10cc" }
], 731.7, 745, 746.3, 657.7, 16, 13.2);
addText(696, 641, "Cross Validation, Novel Triangle A", titleSize, "middle");
addText(686, 888.5, "Time, [s]", 13, "middle");
addText(480, 752, "Frequency, [Hz]", 13.6, "middle", -90);
addText(468, 623, "(h)", 32, "start", 0, "bold");

// (i)
var axI = axes2d({ left: 950, right: 1304.3, top: 646.7, bottom: 855.7, xDomain: [8.5, 11.25], yDomain: [0, 250], xTicks: timeTicks, yTicks: freqTicks });
drawSeries(axI, [
  { values: psthB, color: "#222", width: 1 },
  { values: predictB, color: "#ff9a1a", width: 1.4 }
]);
drawLegend([
  { name: "PSTH, Triangle B", color: "#222", width: 1 },
  { name: "Manifold Prediction", color: "#ff9a1a" }
], 1180.7, 1194, 1195, 657, 15.3, 12.6);
addText(1138, 640, "Cross Validation, Novel Triangle B", titleSize, "middle");
addText(1127, 884, "Time, [s]", 13, "middle");
addText(922, 750, "Frequency, [Hz]", 13.7, "middle", -90);
addText(904, 623, "(i)", 32, "start", 0, "bold");
</script>
</body>
</html>
